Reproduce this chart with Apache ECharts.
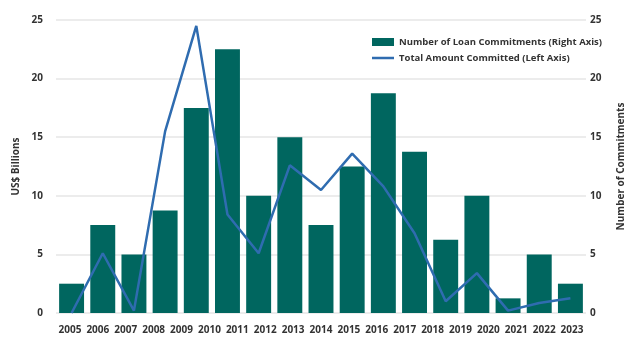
<!DOCTYPE html>
<html>
<head>
<meta charset="utf-8">
<script src="https://cdn.jsdelivr.net/npm/echarts@6/dist/echarts.min.js"></script>
<style>html,body{margin:0;padding:0;background:#fff}#c{width:636px;height:343px}</style>
</head>
<body>
<div id="c"></div>
<script>
const tickLabels = ['2005','2006','2007','2008','2009','2010','2011','2012','2013','2014','2015','2016','2017','2018','2019','2020','2021','2022','2023'];
const pointCategories = ['1','2','3','4','5','6','7','8','9','10','11','12','13','14','15','16','17'];
const loanCommitments = [2.5, 7.5, 5, 8.75, 17.5, 22.5, 10, 15, 7.5, 12.5, 18.75, 13.75, 6.25, 10, 1.25, 5, 2.5];
const totalCommitted = [0, 5.1, 0.2, 15.5, 24.5, 8.4, 5.1, 12.6, 10.5, 13.6, 10.8, 6.8, 1.0, 3.4, 0.2, 0.85, 1.25];
const yTicks = [0, 5, 10, 15, 20, 25];

const FONT = '"Open Sans", sans-serif';
const chart = echarts.init(document.getElementById('c'));
chart.setOption({
  animation: false,
  textStyle: { fontFamily: FONT },
  grid: { left: 56, right: 50, top: 20, bottom: 30, containLabel: false },
  legend: {
    orient: 'vertical', left: 372, top: 37, padding: 0, itemWidth: 22, itemHeight: 8, itemGap: 6,
    textStyle: { fontFamily: FONT, fontWeight: 'bold', fontSize: 9.5, color: '#333' },
    data: [
      { name: 'Number of Loan Commitments (Right Axis)', icon: 'rect' },
      { name: 'Total Amount Committed (Left Axis)', icon: 'path://M0,0 L22,0 L22,2.5 L0,2.5 Z' }
    ]
  },
  xAxis: [
    { type: 'category', data: pointCategories, position: 'top', show: false, boundaryGap: true },
    { type: 'category', data: tickLabels, position: 'bottom', boundaryGap: true,
      axisLine: { show: false }, axisTick: { show: false },
      axisLabel: { fontFamily: FONT, fontWeight: 'bold', fontSize: 10, color: '#333', margin: 12, interval: 0 } }
  ],
  yAxis: [
    { type: 'value', min: yTicks[0], max: yTicks[yTicks.length - 1], interval: 5, position: 'left',
      name: 'US$ Billions', nameLocation: 'middle', nameGap: 34, nameRotate: 90,
      nameTextStyle: { fontFamily: FONT, fontWeight: 'bold', fontSize: 10, color: '#333' },
      axisLine: { show: false }, axisTick: { show: false },
      axisLabel: { fontFamily: FONT, fontWeight: 'bold', fontSize: 10, color: '#333', margin: 13 },
      splitLine: { lineStyle: { color: '#e6e6e6', width: 1.5 } } },
    { type: 'value', min: yTicks[0], max: yTicks[yTicks.length - 1], interval: 5, position: 'right',
      name: 'Number of Commitments', nameLocation: 'middle', nameGap: 30, nameRotate: 90,
      nameTextStyle: { fontFamily: FONT, fontWeight: 'bold', fontSize: 10, color: '#333' },
      axisLine: { show: false }, axisTick: { show: false },
      axisLabel: { fontFamily: FONT, fontWeight: 'bold', fontSize: 10, color: '#333', margin: 4 },
      splitLine: { show: false } }
  ],
  series: [
    { name: 'Number of Loan Commitments (Right Axis)', type: 'bar', xAxisIndex: 0, yAxisIndex: 1,
      data: loanCommitments, barCategoryGap: '20%', itemStyle: { color: '#00665f' } },
    { name: 'Total Amount Committed (Left Axis)', type: 'line', xAxisIndex: 0, yAxisIndex: 0,
      data: totalCommitted, symbol: 'none', lineStyle: { color: '#2f6cb0', width: 2.5 }, itemStyle: { color: '#2f6cb0' } }
  ]
});
</script>
</body>
</html>
